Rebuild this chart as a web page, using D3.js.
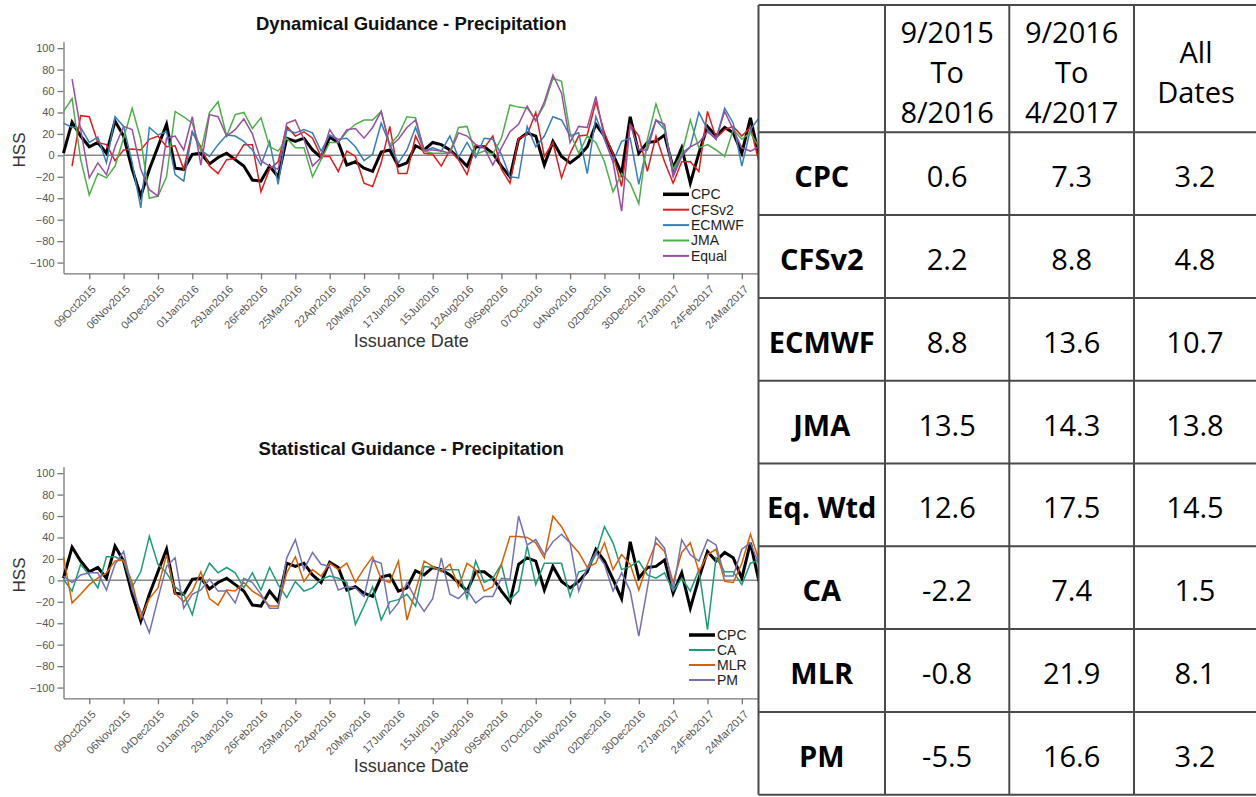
<!DOCTYPE html>
<html>
<head>
<meta charset="utf-8">
<script src="https://cdn.jsdelivr.net/npm/d3@7"></script>
<style>
    body { margin: 0; background: #fff; }
    svg { display: block; }
</style>
</head>
<body>
<svg id="fig" width="1256" height="797"></svg>
<script>
// weekly issuance dates start here
const firstIssue = "18Sep2015";
const weekCount = 82;

const tickLabels = ["09Oct2015", "06Nov2015", "04Dec2015", "01Jan2016", "29Jan2016", "26Feb2016",
    "25Mar2016", "22Apr2016", "20May2016", "17Jun2016", "15Jul2016", "12Aug2016", "09Sep2016",
    "07Oct2016", "04Nov2016", "02Dec2016", "30Dec2016", "27Jan2017", "24Feb2017", "24Mar2017"];
const yTicks = [-100, -80, -60, -40, -20, 0, 20, 40, 60, 80, 100];

// HSS per week
const cpc = [2, 31, 18, 8, 12, 2, 32, 18, -13, -38, -13, 8, 29, -12, -13, 1, 2, -8, -2, 2, -4, -10,
    -23, -24, -10, -20, 16, 13, 16, 5, -2, 17, 12, -9, -6, -12, -15, 3, 5, -10, -7, 9, 5, 12, 10, 5, -2, -10, 8, 8, 2,
    -10, -20, 15, 21, 18, -9, 13, -1, -7, -1, 8, 29, 18, 1, -17, 36, 2, 12, 13, 19, -12, 7, -26, 2, 27, 18, 26, 21, 2, 35, -1];
const cfsv2 = [null, -10, 37, 36, 12, 10, -5, 5, 6, 5, 15, 18, 8, 9, -13, 22, 8, -10, -17, -4, -3, 10, 10,
    -34, -13, -6, 27, 18, 22, 16, -1, -1, -15, 4, -1, -26, -29, -7, 27, -17, -17, 18, 2, 1, -10, 5, -4, -18, 10, 7, 18,
    -13, -26, 16, 19, 40, -1, 12, -21, 2, 18, 19, 50, 21, 1, -29, 29, 18, -15, 18, -6, -26, -6, -6, -15, 41, 16, 24, 27, 18, 26, -6];
const ecmwf = [30, 26, 26, 12, 17, -7, 36, 27, -7, -49, 26, 19, 22, -18, -24, 22, 5, -1, 10, 19, 18, 13, 5,
    -9, 13, -27, 24, 21, 24, 21, 4, 19, 15, 16, 8, -5, 1, 30, 10, -7, 5, 26, 4, 7, 4, 18, -2, 12, -2, 16, 15,
    1, -20, -21, 27, 8, 18, 36, 33, 18, 21, -17, 36, 15, -6, 13, 16, -27, 10, 33, 24, -18, 2, 8, 40, 24, 15, 44, 30, -10, 24, 35];
const jma = [41, 53, -4, -37, -17, -21, -10, 16, 44, 15, -40, -38, -20, 41, 36, 30, 4, 40, 50, 18, 38, 40, 25,
    35, 8, 4, 16, 7, 7, -20, -4, 12, 12, 22, 29, 33, 33, 41, 10, 19, 36, 35, 4, 2, 2, 2, 26, 27, 1, 4, 1,
    16, 47, 45, 44, 33, 47, 72, 69, 21, 2, 18, 12, -6, -34, -17, -26, -45, 15, 48, 24, -13, 1, 33, 7, 10, 5, -1, 24, 15, 21, 8];
const equal = [null, 71, 24, -21, -7, -18, 8, 27, 24, -13, -32, -38, 16, 18, 5, 36, -9, 38, 36, 18, 24, 34, 20,
    -5, -10, -13, 30, 33, 15, -10, -2, 24, 12, 24, 25, 16, 26, 41, 8, 15, 26, 33, 5, 5, 4, 2, 21, 18, 10, 7, -9,
    7, 22, 29, 46, 32, 50, 75, 58, 12, 27, 26, 55, 16, -6, -52, 29, 5, 5, 33, 29, -20, -1, 8, 12, 22, 15, 41, 24, 7, 4, 8];
const ca = [1, -10, 15, 5, -7, 22, 22, 18, -6, 8, 41, 15, 7, -6, -13, -32, -1, 16, 7, 12, 7, -7,
    7, -9, 12, -4, -16, -1, -10, -7, 1, 4, 2, -2, -41, -24, -6, -37, -20, -18, -13, -24, 13, 12, 10, 10, 10, -17, 18, -2, 2,
    15, -18, -10, 32, -4, 16, 16, 16, -15, 8, 10, 24, 50, 35, 10, 13, 18, 5, 2, 7, -10, 2, -10, 10, -46, 21, 8, 8, -4, 16, 19];
const mlr = [22, -21, -13, -4, 2, 7, 18, 19, -2, -35, -17, -7, 24, -12, -20, -10, 8, -17, -23, -9, -10, -2,
    -10, -15, -24, -24, 7, 22, -1, 10, 4, 16, 10, 16, -2, 11, 22, 1, -2, 18, -37, -10, 18, 13, 8, 15, -6, 16, 10, -10, -6,
    15, 41, 41, 40, 35, 21, 60, 50, 35, 26, 12, 16, 35, 10, 24, 15, -9, 15, 35, 27, -2, 26, 35, 8, 24, 29, -1, -2, 16, 43, 19];
const pm = [4, -2, 5, 7, 7, -9, 15, 27, -9, -29, -49, -17, 13, 21, -26, -13, -9, 1, -10, -10, -21, 2,
    -2, -13, -26, -26, 21, 38, 10, 26, 15, 13, -9, -6, -7, -15, 19, 16, -31, -21, -2, -17, -29, -17, 21, -13, -17, -9, -21, -15, -15,
    2, 1, 60, 33, 38, 24, 36, 43, 35, -10, 12, 26, 15, -10, 7, -10, -52, -7, 40, 30, -9, 38, 24, 18, 38, 33, 4, 4, 29, 35, 15];

// table
const rowNames = ["CPC", "CFSv2", "ECMWF", "JMA", "Eq. Wtd", "CA", "MLR", "PM"];
const colHeads = [["9/2015", "To", "8/2016"], ["9/2016", "To", "4/2017"], ["All", "Dates"]];
const hss1516 = ["0.6", "2.2", "8.8", "13.5", "12.6", "-2.2", "-0.8", "-5.5"];
const hss1617 = ["7.3", "8.8", "13.6", "14.3", "17.5", "7.4", "21.9", "16.6"];
const hssAll = ["3.2", "4.8", "10.7", "13.8", "14.5", "1.5", "8.1", "3.2"];

const parseDate = d3.timeParse("%d%b%Y");
const start = parseDate(firstIssue);
const dates = d3.range(weekCount).map((i) => d3.timeDay.offset(start, 7 * i));

const svg = d3.select("#fig");
const font = "'Liberation Sans', Arial, sans-serif";

const plotLeft = 63.5, plotRight = 759;
const x = d3.scaleTime().domain([dates[0], dates[weekCount - 1]]).range([plotLeft, plotRight]);

const drawChart = (top, title, series, legendPos) => {
    const g = svg.append("g").attr("transform", "translate(0," + top + ")");
    const y = d3.scaleLinear().domain([-110, 106]).range([273.3, 41.7]);

    // title
    g.append("text")
        .attr("x", (plotLeft + plotRight) / 2).attr("y", 30)
        .attr("text-anchor", "middle")
        .style("font", "bold 18.5px " + font).attr("fill", "#111")
        .text(title);

    // y axis
    const yAxis = g.append("g")
        .attr("transform", "translate(" + plotLeft + ",0)")
        .call(d3.axisLeft(y).tickValues(yTicks).tickSize(6).tickSizeOuter(0).tickPadding(3));
    yAxis.selectAll("text").style("font", "11px " + font).attr("fill", "#555");

    // x axis
    const xAxis = g.append("g")
        .attr("transform", "translate(0,273.3)")
        .call(d3.axisBottom(x).tickValues(tickLabels.map(parseDate)).tickSize(6).tickSizeOuter(0)
            .tickFormat(d3.timeFormat("%d%b%Y")));
    xAxis.selectAll("text")
        .style("font", "11px " + font).attr("fill", "#555")
        .attr("text-anchor", "end")
        .attr("x", 0).attr("y", 0).attr("dy", "0.35em")
        .attr("transform", "translate(4,14) rotate(-45)");

    g.selectAll(".domain, .tick line").attr("stroke", "#777").attr("stroke-width", 1.3);

    // zero line
    g.append("line")
        .attr("x1", plotLeft).attr("x2", plotRight)
        .attr("y1", y(0)).attr("y2", y(0))
        .attr("stroke", "#888").attr("stroke-width", 1.5);

    // axis titles
    g.append("text")
        .attr("transform", "translate(19," + 150 + ") rotate(-90)")
        .attr("text-anchor", "middle").attr("dominant-baseline", "central")
        .style("font", "17px " + font).attr("fill", "#333")
        .text("HSS");
    g.append("text")
        .attr("x", (plotLeft + plotRight) / 2).attr("y", 341)
        .attr("text-anchor", "middle").attr("dominant-baseline", "central")
        .style("font", "18px " + font).attr("fill", "#333")
        .text("Issuance Date");

    // lines
    const line = d3.line()
        .defined((d) => d != null)
        .x((d, i) => x(dates[i]))
        .y((d) => y(d));

    g.selectAll(".series")
        .data(series)
        .enter()
        .append("path")
        .attr("class", "series")
        .attr("fill", "none")
        .attr("stroke", (s) => s.color)
        .attr("stroke-width", (s) => s.width)
        .attr("d", (s) => line(s.values));

    // legend
    const lg = g.append("g").attr("transform", "translate(" + legendPos.x + "," + legendPos.y + ")");
    series.forEach((s, i) => {
        const ly = i * legendPos.step;
        lg.append("line")
            .attr("x1", 0).attr("x2", 26).attr("y1", ly).attr("y2", ly)
            .attr("stroke", s.color).attr("stroke-width", s.width + 0.5);
        lg.append("text")
            .attr("x", 28).attr("y", ly)
            .attr("dominant-baseline", "central")
            .style("font", "14px " + font).attr("fill", "#222")
            .text(s.name);
    });
};

drawChart(0, "Dynamical Guidance - Precipitation", [
    { name: "CPC", values: cpc, color: "#000", width: 3 },
    { name: "CFSv2", values: cfsv2, color: "#e41a1c", width: 1.5 },
    { name: "ECMWF", values: ecmwf, color: "#377eb8", width: 1.5 },
    { name: "JMA", values: jma, color: "#4daf4a", width: 1.5 },
    { name: "Equal", values: equal, color: "#984ea3", width: 1.5 }
], { x: 663, y: 194.3, step: 15.4 });

drawChart(425, "Statistical Guidance - Precipitation", [
    { name: "CPC", values: cpc, color: "#000", width: 3 },
    { name: "CA", values: ca, color: "#1b9e77", width: 1.5 },
    { name: "MLR", values: mlr, color: "#d95f02", width: 1.5 },
    { name: "PM", values: pm, color: "#7570b3", width: 1.5 }
], { x: 689, y: 210, step: 15 });

// table on the right
const colX = [758.5, 885, 1009.3, 1134, 1258];
const headTop = 5, headBottom = 132.3, rowH = 82.8;
const tfont = "'Open Sans', 'Noto Sans', sans-serif";

const tg = svg.append("g");
tg.append("rect")
    .attr("x", colX[0]).attr("y", 0)
    .attr("width", 1256 - colX[0]).attr("height", 797)
    .attr("fill", "#fff");

const rowY = d3.range(rowNames.length + 1).map((i) => headBottom + i * rowH);
const tableBottom = rowY[rowY.length - 1];

// grid
[headTop].concat(rowY).forEach((yy) => {
    tg.append("line")
        .attr("x1", colX[0]).attr("x2", 1256).attr("y1", yy).attr("y2", yy)
        .attr("stroke", "#4a4a4a").attr("stroke-width", 2);
});
colX.forEach((xx) => {
    tg.append("line")
        .attr("x1", xx).attr("x2", xx).attr("y1", headTop).attr("y2", tableBottom)
        .attr("stroke", "#4a4a4a").attr("stroke-width", 2);
});

// header
colHeads.forEach((lines, c) => {
    const cx = (colX[c + 1] + colX[c + 2]) / 2;
    const mid = (headTop + headBottom) / 2 + 3;
    lines.forEach((t, k) => {
        tg.append("text")
            .attr("x", cx)
            .attr("y", mid + (k - (lines.length - 1) / 2) * 40)
            .attr("text-anchor", "middle").attr("dominant-baseline", "central")
            .style("font", "29px " + tfont).attr("fill", "#000")
            .text(t);
    });
});

// body
rowNames.forEach((name, r) => {
    const cy = rowY[r] + rowH / 2 + 2;
    const cells = [name, hss1516[r], hss1617[r], hssAll[r]];
    cells.forEach((t, c) => {
        tg.append("text")
            .attr("x", (colX[c] + colX[c + 1]) / 2 + (c === 3 ? -1 : 0))
            .attr("y", cy)
            .attr("text-anchor", "middle").attr("dominant-baseline", "central")
            .style("font", (c === 0 ? "bold " : "") + "29px " + tfont).attr("fill", "#000")
            .text(t);
    });
});
</script>
</body>
</html>
